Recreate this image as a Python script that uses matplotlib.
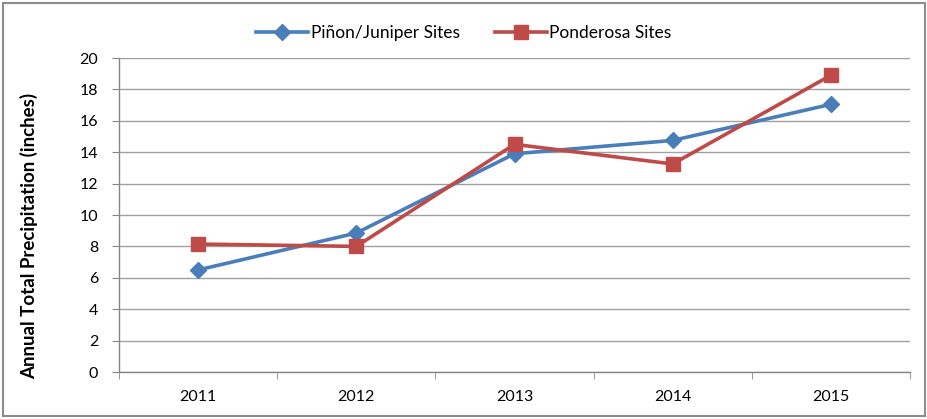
import matplotlib
matplotlib.use("Agg")
import matplotlib.pyplot as plt
from matplotlib.patches import Rectangle
from matplotlib.ticker import FixedLocator

years = ["2011", "2012", "2013", "2014", "2015"]
pinon = [6.5, 8.85, 13.9, 14.75, 17.05]
ponderosa = [8.15, 8.0, 14.5, 13.25, 18.9]
yticks = [0, 2, 4, 6, 8, 10, 12, 14, 16, 18, 20]

plt.rcParams['font.family'] = ['Lato', 'DejaVu Sans']

fig = plt.figure(figsize=(9.28, 4.19), dpi=100)
ax = fig.add_axes([119/928, 1-372/419, (910-119)/928, (372-58)/419])

x = list(range(len(years)))
blue = '#4A7EBB'
red = '#BE4B48'
ax.plot(x, pinon, color=blue, lw=2.6, marker='D', ms=8.5, label='Piñon/Juniper Sites', zorder=3)
ax.plot(x, ponderosa, color=red, lw=2.6, marker='s', ms=9.5, label='Ponderosa Sites', zorder=4)

ax.set_xlim(-0.5, len(years)-0.5)
ax.set_ylim(0, 20)
ax.set_yticks(yticks)
ax.set_xticks(x)
ax.set_xticklabels(years, fontsize=11.5)
ax.xaxis.set_minor_locator(FixedLocator([i-0.5 for i in range(len(years)+1)]))
ax.tick_params(axis='x', which='major', length=0, pad=13)
ax.tick_params(axis='x', which='minor', length=5, color='#868686', direction='out')
ax.tick_params(axis='y', length=5, color='#868686', labelsize=11.5, pad=10)
ax.grid(axis='y', color='#A0A0A0', lw=1)
ax.set_axisbelow(True)
for s in ['top', 'right']:
    ax.spines[s].set_visible(False)
for s in ['left', 'bottom']:
    ax.spines[s].set_color('#868686')
    ax.spines[s].set_linewidth(1)

ax.set_ylabel('Annual Total Precipitation (inches)', fontsize=13.5, fontweight='bold')
ax.yaxis.set_label_coords(-81/791, (372-236)/314)

leg = fig.legend(loc='center', bbox_to_anchor=(0.5, 1-33/419), ncol=2, frameon=False,
                 fontsize=12.5, handlelength=3.0, columnspacing=2.0, handletextpad=0.15)

fig.patches.append(Rectangle((3/928, 3/419), 1-6/928, 1-6/419, transform=fig.transFigure,
                             fill=False, edgecolor='#8C8C8C', lw=1.5))

fig.savefig('out.png', dpi=100)
